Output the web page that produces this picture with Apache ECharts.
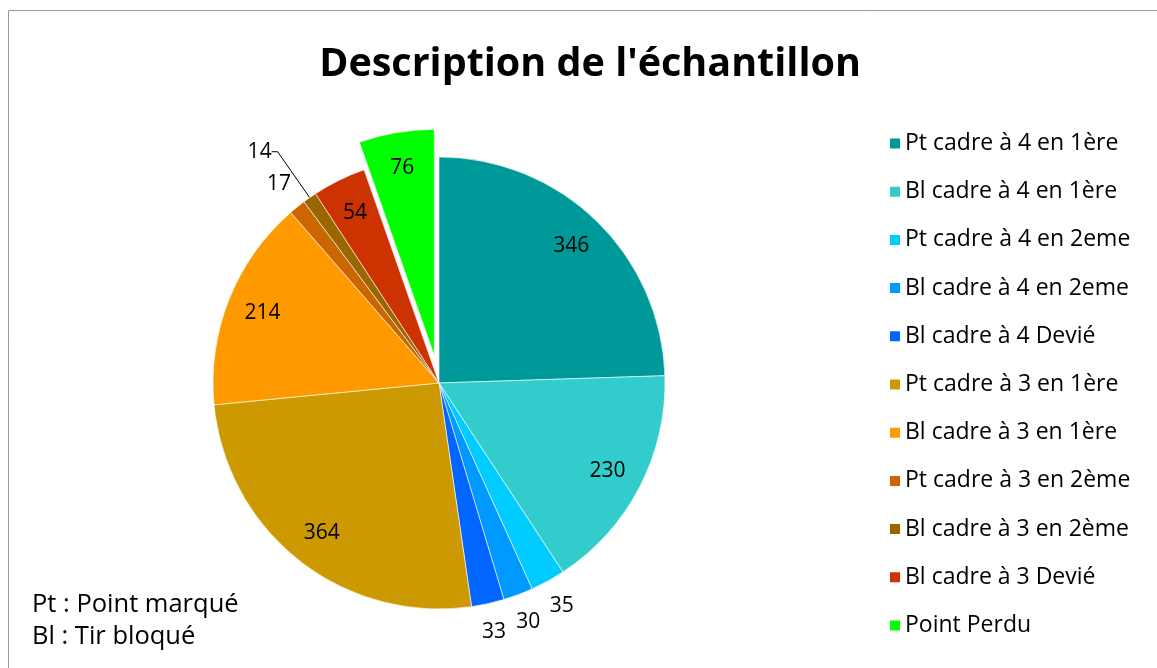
<!DOCTYPE html>
<html>
<head>
<meta charset="utf-8">
<script src="https://cdn.jsdelivr.net/npm/echarts@6/dist/echarts.min.js"></script>
<style>
html,body{margin:0;padding:0;background:#fff;}
#chart{width:1157px;height:668px;}
</style>
</head>
<body>
<div id="chart"></div>
<script>
const categories = [
  'Pt cadre à 4 en 1ère', 'Bl cadre à 4 en 1ère', 'Pt cadre à 4 en 2eme',
  'Bl cadre à 4 en 2eme', 'Bl cadre à 4 Devié', 'Pt cadre à 3 en 1ère',
  'Bl cadre à 3 en 1ère', 'Pt cadre à 3 en 2ème', 'Bl cadre à 3 en 2ème',
  'Bl cadre à 3 Devié', 'Point Perdu'
];
const values = [346, 230, 35, 30, 33, 364, 214, 17, 14, 54, 76];
const colors = ['#009999', '#33CCCC', '#00CCFF', '#0099FF', '#0066FF', '#CC9900',
  '#FF9900', '#CC6600', '#996600', '#CC3300', '#00FF00'];
const notes = ['Pt : Point marqué', 'Bl : Tir bloqué'];
const explodedIndex = 10;
const insideLabelIdx = [0, 1, 5, 6, 9, 10];
const ringLabelIdx = [2, 3, 4, 7];
const leaderLabelIdx = [8];

const FONT = 'Open Sans';
const CX = 439, CY = 383, R = 226, OFFSET = 28;

function makeData(labelFn) {
  return categories.map((name, i) => ({
    name: name,
    value: values[i],
    selected: i === explodedIndex,
    itemStyle: { color: 'rgba(0,0,0,0)' },
    label: labelFn(i)
  }));
}

const chart = echarts.init(document.getElementById('chart'), null, { renderer: 'canvas' });
const option = {
  animation: false,
  backgroundColor: '#fff',
  color: colors,
  title: {
    text: "Description de l'échantillon",
    left: 585, top: 40, textAlign: 'center',
    textStyle: { fontFamily: FONT, fontWeight: 'bold', fontSize: 39.5, color: '#000' }
  },
  legend: {
    orient: 'vertical',
    left: 883, top: 127,
    itemWidth: 12, itemHeight: 12,
    itemGap: 25.2,
    icon: 'rect',
    selectedMode: false,
    data: categories,
    textStyle: { fontFamily: FONT, fontSize: 23, color: '#000', lineHeight: 20, padding: [0, 0, 0, -1] }
  },
  graphic: [
    { type: 'rect', shape: { x: 8.5, y: 10.5, width: 1170, height: 680 }, style: { fill: 'none', stroke: '#9a9a9a', lineWidth: 1 }, silent: true },
    { type: 'text', left: 32, top: 592, style: { text: notes[0], font: '25.5px "Open Sans"', fill: '#000' } },
    { type: 'text', left: 32, top: 624, style: { text: notes[1], font: '25.5px "Open Sans"', fill: '#000' } }
  ],
  series: [
    {
      type: 'pie',
      center: [CX, CY], radius: [0, R],
      startAngle: 90, clockwise: true,
      selectedMode: 'multiple', selectedOffset: OFFSET,
      avoidLabelOverlap: false,
      silent: true,
      itemStyle: { borderColor: '#fff', borderWidth: 0.6 },
      data: categories.map((name, i) => ({
        name: name, value: values[i], selected: i === explodedIndex,
        itemStyle: { color: colors[i] },
        label: leaderLabelIdx.includes(i)
          ? { show: true, position: 'outside', distanceToLabelLine: 0, formatter: '{c}', fontFamily: FONT, fontSize: 21, color: '#000' }
          : { show: false },
        labelLine: leaderLabelIdx.includes(i)
          ? { show: true, length: 56, length2: 6, lineStyle: { color: '#000', width: 1 } }
          : { show: false }
      }))
    },
    {
      type: 'pie',
      center: [CX, CY], radius: [148, R],
      startAngle: 90, clockwise: true,
      selectedMode: 'multiple', selectedOffset: OFFSET,
      avoidLabelOverlap: false, silent: true,
      labelLine: { show: false },
      data: makeData(i => insideLabelIdx.includes(i)
        ? { show: true, position: 'inside', formatter: '{c}', fontFamily: FONT, fontSize: 21, color: '#000' }
        : { show: false })
    },
    {
      type: 'pie',
      center: [CX, CY], radius: [238, 266],
      startAngle: 90, clockwise: true,
      selectedMode: 'multiple', selectedOffset: OFFSET,
      avoidLabelOverlap: false, silent: true,
      labelLine: { show: false },
      data: makeData(i => ringLabelIdx.includes(i)
        ? { show: true, position: 'inside', formatter: '{c}', fontFamily: FONT, fontSize: 21, color: '#000' }
        : { show: false })
    }
  ]
};
chart.setOption(option);
</script>
</body>
</html>
